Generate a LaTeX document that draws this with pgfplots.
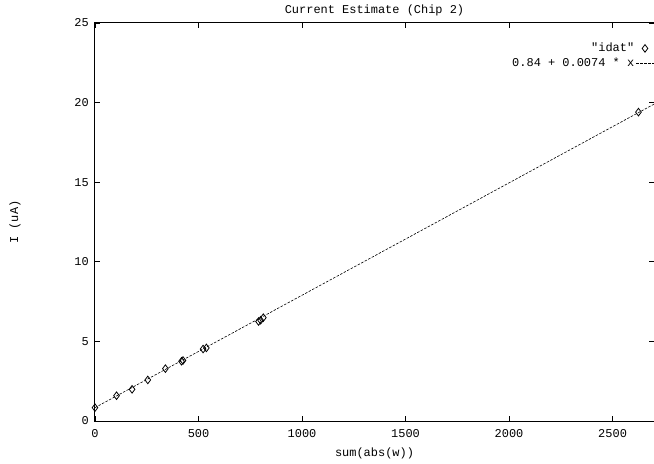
\documentclass[border=0pt]{standalone}
\usepackage{fontspec}
\setmonofont{Liberation Mono}
\renewcommand{\familydefault}{\ttdefault}
\usepackage{pgfplots}
\pgfplotsset{compat=1.18}
\begin{document}
\ttfamily\fontsize{12}{14}\selectfont
\begin{tikzpicture}[font=\ttfamily\fontsize{12}{14}\selectfont]
\begin{axis}[
  scale only axis, width=559bp, height=398bp,
  xmin=0, xmax=2700, ymin=0, ymax=25,
  xtick={0,500,1000,1500,2000,2500}, ytick={0,5,10,15,20,25},
  tick align=inside, major tick length=5bp,
  /pgf/number format/assume math mode=true,
  /pgf/number format/1000 sep={},
  tick label style={font=\ttfamily\fontsize{12}{14}\selectfont},
  xticklabel style={yshift=-4bp},
  yticklabel style={xshift=-2bp},
  axis line style={line width=1pt},
  every tick/.style={black, line width=0.8pt},
  title={Current Estimate (Chip 2)},
  every axis title/.style={at={(rel axis cs:0.5,1)}, anchor=center, yshift=13bp},
  xlabel={sum(abs(w))}, ylabel={I (uA)},
  every axis x label/.style={at={(rel axis cs:0.5,0)}, anchor=center, yshift=-32bp},
  every axis y label/.style={at={(rel axis cs:0,0.5)}, xshift=-80bp, anchor=center, rotate=90},
  legend style={at={(rel axis cs:1,1)}, anchor=north east, yshift=-16bp, draw=none, fill=none,
    inner xsep=0pt, row sep=0pt, font=\ttfamily\fontsize{12}{14}\selectfont},
  legend cell align=right, legend plot pos=right,
  clip=false,
]
\coordinate (bl) at (rel axis cs:0,0);
\coordinate (tr) at (rel axis cs:1,1);
\addplot[only marks, mark=diamond, mark size=3.8pt, mark options={line width=0.8pt, fill=white}, black] coordinates {
  (0,0.84) (104,1.59) (179,1.99) (255,2.58) (340,3.29) (418,3.75) (425,3.80)
  (522,4.52) (538,4.59) (790,6.25) (800,6.33) (813,6.49) (2625,19.4)
};
\addlegendentry{"idat"}
\addplot[black, line width=0.6pt, dash pattern=on 2.5pt off 1.5pt] coordinates {(0,0.84) (2700,19.9)};
\addlegendentry{0.84 + 0.0074 * x}
\end{axis}
\pgfresetboundingbox
\path[use as bounding box] ([xshift=-95bp,yshift=-43bp]bl) rectangle ([yshift=23bp]tr);
\end{tikzpicture}
\end{document}
